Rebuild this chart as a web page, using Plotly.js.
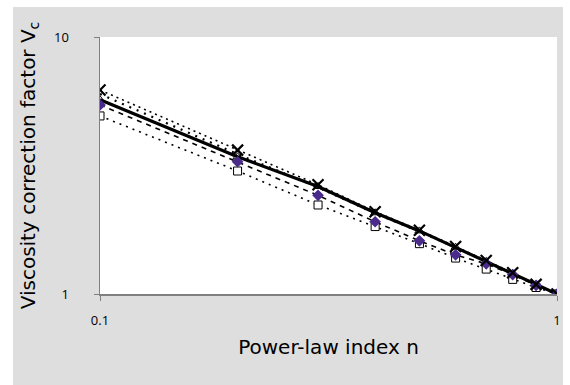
<!DOCTYPE html>
<html>
<head>
<meta charset="utf-8">
<script src="https://cdn.plot.ly/plotly-3.0.1.min.js"></script>
<style>html,body{margin:0;padding:0;background:#fff;}#chart{width:570px;height:385px;}</style>
</head>
<body>
<div id="chart"></div>
<script>
// Power-law index n
const nValues = [0.1, 0.2, 0.3, 0.4, 0.5, 0.6, 0.7, 0.8, 0.9, 1.0];
// Series (viscosity correction factor Vc)
const crossSeries    = [6.22, 3.63, 2.66, 2.09, 1.77, 1.53, 1.35, 1.21, 1.09, 1.0];
const upperDotted2   = [6.00, 3.50, 2.60, 2.06, 1.75, 1.52, 1.34, 1.20, 1.09, 1.0];
const triangleSeries = [5.70, 3.42, 2.62, 2.07, 1.76, 1.52, 1.34, 1.20, 1.09, 1.0];
const purpleSeries   = [5.44, 3.27, 2.42, 1.91, 1.61, 1.42, 1.31, 1.19, 1.08, 1.0];
const squareSeries   = [4.93, 3.01, 2.22, 1.83, 1.57, 1.38, 1.25, 1.14, 1.06, 1.0];
// Axis ticks
const xTickVals = [0.1, 1];
const xTickText = ['0.1', '1'];
const yTickVals = [1, 10];
const yTickText = ['1', '10'];

const TITLE_FONT = 'DejaVu Sans, Open Sans, sans-serif';
const TICK_FONT = 'Open Sans, Noto Sans, sans-serif';

const traces = [
  {x: nValues, y: crossSeries, mode: 'lines', line: {color: '#000', width: 1.6, dash: '2px,4px'}, hoverinfo: 'skip'},
  {x: nValues, y: upperDotted2, mode: 'lines', line: {color: '#000', width: 2.2, dash: '2px,6px'}, hoverinfo: 'skip'},
  {x: nValues, y: purpleSeries, mode: 'lines', line: {color: '#000', width: 1.6, dash: '5px,5px'}, hoverinfo: 'skip'},
  {x: nValues, y: squareSeries, mode: 'lines', line: {color: '#000', width: 1.6, dash: '2px,5px'}, hoverinfo: 'skip'},
  {x: nValues, y: squareSeries, mode: 'markers', marker: {symbol: 'square', size: 8, color: '#fff', line: {color: '#000', width: 1}}},
  {x: nValues, y: triangleSeries, mode: 'markers', marker: {symbol: 'triangle-up', size: 8, color: '#fff', line: {color: '#000', width: 1}}},
  {x: nValues, y: triangleSeries, mode: 'lines', line: {color: '#000', width: 3.2}, hoverinfo: 'skip'},
  {x: nValues, y: purpleSeries, mode: 'markers', marker: {symbol: 'diamond', size: 9, color: '#4a2a8a', line: {color: '#4a2a8a', width: 0}}},
  {x: nValues, y: crossSeries, mode: 'markers', marker: {symbol: 'x-thin-open', size: 11, color: '#000', line: {color: '#000', width: 2.2}}}
];

const layout = {
  width: 570, height: 385,
  margin: {l: 100, r: 13, t: 37, b: 91},
  paper_bgcolor: '#dedede',
  plot_bgcolor: '#ffffff',
  showlegend: false,
  font: {family: TICK_FONT, color: '#000'},
  xaxis: {
    type: 'log', range: [-1, 0],
    tickvals: xTickVals, ticktext: xTickText,
    ticks: 'outside', ticklen: 5, tickcolor: '#808080',
    showline: true, linecolor: '#808080', linewidth: 1.5,
    showgrid: false, zeroline: false,
    tickfont: {size: 13, family: TICK_FONT},
    ticklabelstandoff: 9,
    title: {text: 'Power-law index n', font: {size: 20, family: TITLE_FONT}, standoff: 12}
  },
  yaxis: {
    type: 'log', range: [0, 1],
    tickvals: yTickVals, ticktext: yTickText,
    ticks: 'outside', ticklen: 5, tickcolor: '#808080',
    showline: true, linecolor: '#808080', linewidth: 1.5,
    showgrid: false, zeroline: false,
    tickfont: {size: 13, family: TICK_FONT},
    ticklabelstandoff: 22,
    title: {text: 'Viscosity correction factor V<sub>c</sub>', font: {size: 20, family: TITLE_FONT}, standoff: 13}
  },
  shapes: [
    {type: 'rect', xref: 'paper', yref: 'paper', x0: -0.25, x1: -0.1904, y0: -0.4, y1: 1.2, fillcolor: '#fff', line: {width: 0}, layer: 'below'},
    {type: 'rect', xref: 'paper', yref: 'paper', x0: 1.0131, x1: 1.05, y0: -0.4, y1: 1.2, fillcolor: '#fff', line: {width: 0}, layer: 'below'},
    {type: 'rect', xref: 'paper', yref: 'paper', x0: -0.25, x1: 1.05, y0: 1.1167, y1: 1.2, fillcolor: '#fff', line: {width: 0}, layer: 'below'}
  ]
};

Plotly.newPlot('chart', traces, layout, {staticPlot: true, displayModeBar: false});
</script>
</body>
</html>
